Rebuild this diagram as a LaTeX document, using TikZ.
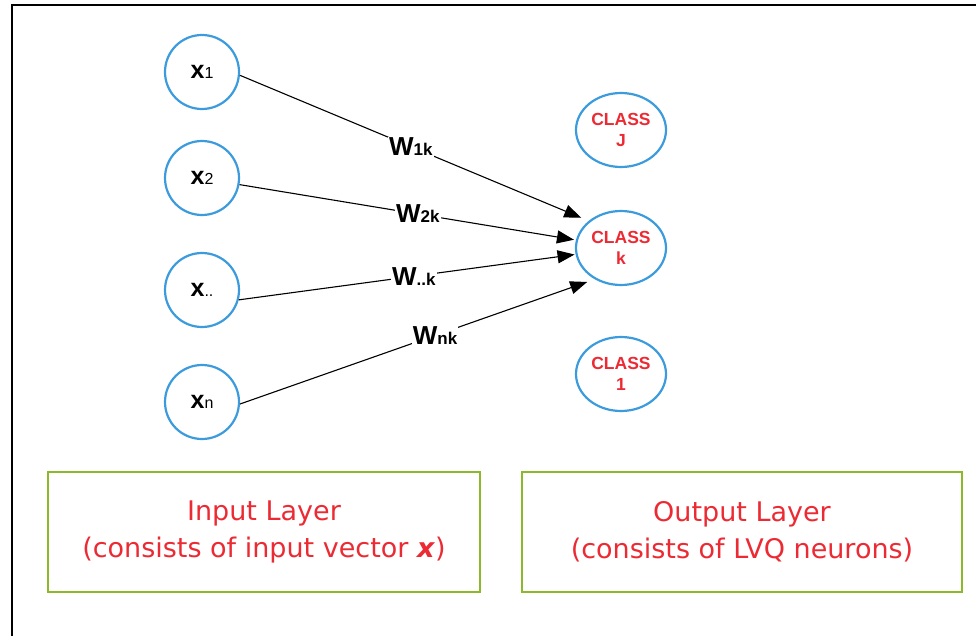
\documentclass[tikz,border=0pt]{standalone}
\usepackage{fontspec}
\usepackage{tikz}
\usetikzlibrary{shapes.geometric,arrows.meta}
\setmainfont{Liberation Sans}
\newfontfamily\boxfont{DejaVu Sans}
\definecolor{nodeblue}{HTML}{3C9BDC}
\definecolor{classred}{HTML}{EC2A33}
\definecolor{boxgreen}{HTML}{8CB82B}
\newcommand{\xin}[1]{{\fontsize{25}{25}\selectfont\bfseries x}{\fontsize{16}{16}\selectfont #1}}
\newcommand{\wlab}[1]{{\fontsize{26}{26}\selectfont\bfseries W}{\fontsize{17}{17}\selectfont\bfseries #1}}

\begin{document}
\begin{tikzpicture}[x=1pt,y=-1pt,thick,
  inneuron/.style={circle,draw=nodeblue,line width=2.2pt,minimum size=74pt,inner sep=0pt},
  outneuron/.style={ellipse,draw=nodeblue,line width=2.2pt,minimum width=90pt,minimum height=74pt,inner sep=0pt,
    text=classred,font=\fontsize{17.5}{21}\selectfont\bfseries,align=center},
  layerbox/.style={draw=boxgreen,line width=2pt,minimum width=432pt,minimum height=120pt,
    text=classred,font=\boxfont\fontsize{27}{37}\selectfont,align=center},
  weight/.style={fill=white,inner sep=1pt},
  wire/.style={line width=1.1pt,-{Triangle[length=17pt,width=13pt]}}]
\useasboundingbox (0,0) rectangle (976,636);
\draw[line width=2.5pt] (12,636) -- (12,5) -- (976,5);
% input layer
\node[inneuron] (x1) at (202,72) {\xin{1}};
\node[inneuron] (x2) at (202,178) {\xin{2}};
\node[inneuron] (xd) at (202,290) {\xin{..}};
\node[inneuron] (xn) at (202,402) {\xin{n}};
% output layer
\node[outneuron] (J) at (621,130) {CLASS\\J};
\node[outneuron] (k) at (621,248) {CLASS\\k};
\node[outneuron] (c1) at (621,374) {CLASS\\1};
\path
(x1.-5) edge[wire,shorten >=8pt] node[weight,pos=.49] {\wlab{1k}} (k.140)
(x2.-10) edge[wire,shorten >=2pt] node[weight,pos=.53] {\wlab{2k}} (k.170)
(xd.-15) edge[wire,shorten >=1pt] node[weight,pos=.52] {\wlab{..k}} (k.188)
(xn.-3) edge[wire,shorten >=8pt] node[weight,pos=.55] {\wlab{nk}} (k.230);
% captions
\node[layerbox] (inbox) at (264,532) {Input Layer\\(consists of input vector \textbf{\textit{x}})};
\node[layerbox,minimum width=440pt] (outbox) at (742,532) {Output Layer\\(consists of LVQ neurons)};
\end{tikzpicture}
\end{document}
